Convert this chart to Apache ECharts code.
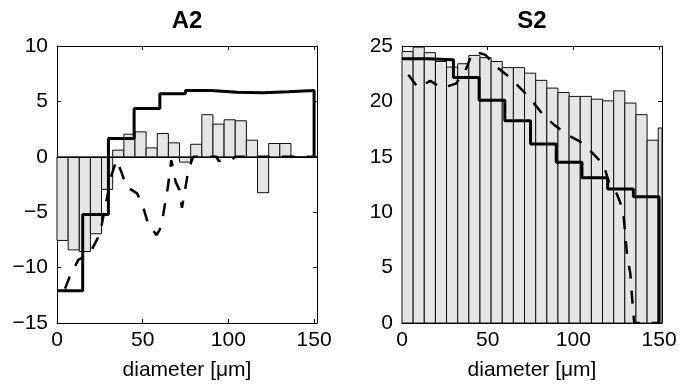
<!DOCTYPE html>
<html>
<head>
<meta charset="utf-8">
<script src="https://cdn.jsdelivr.net/npm/echarts@6/dist/echarts.min.js"></script>
<style>
  html, body { margin: 0; padding: 0; background: #fff; }
  #chart { width: 680px; height: 387px; }
</style>
</head>
<body>
<div id="chart"></div>
<script>
// Size-distribution panels: histogram bars, stepped fit and dashed estimate.
const FONT = 'Liberation Sans, Arial, Helvetica, sans-serif';

const xTicks = [0, 50, 100, 150];
const xMax = 151.7;
const binWidth = 6.5;
const stepEdges = [0, 15, 30, 45, 60, 75, 90, 105, 120, 135, 150];

// A2
const a2YTicks = [-15, -10, -5, 0, 5, 10];
const a2Bars = [-7.55, -8.4, -8.55, -6.95, -2.94, 0.6, 2.04, 2.25, 0.8, 2.1, 1.26, -0.48,
                1.13, 3.8, 2.95, 3.34, 3.25, 1.5, -3.24, 1.2, 1.2, 0, 0, 0];
const a2Step = [-12.1, -5.2, 1.65, 4.35, 5.7, 5.98, 5.83, 5.77, 5.86, 5.98, 0];
const a2DashX = [4.7, 7.6, 12.4, 19.2, 23.7, 26, 31.8, 34.7, 37.6, 40.5, 46.7, 50.2, 53.1, 58,
                 59.9, 61.8, 63.4, 64.7, 66.7, 69.2, 71.5, 72.9, 74.4, 76.3, 78.3, 79.5,
                 86, 93, 94.4, 101.7, 104.2, 150];
const a2DashY = [-11.9, -10.75, -9.3, -8.7, -7.36, -6.2, -1.66, -0.3, -1.37, -2.7, -3.3, -4.5, -6.0, -7.06,
                 -6.6, -5.4, -3.9, -2.7, -0.3, -2.26, -3.0, -4.6, -3.3, -1.5, -0.47, 0,
                 0, 0, -0.38, -0.25, 0, 0];

// S2
const s2YTicks = [0, 5, 10, 15, 20, 25];
const s2Bars = [24.5, 24.9, 24.4, 23.6, 23.1, 23.4, 24.15, 23.95, 23.6, 23.05, 23.05, 22.55,
                21.9, 21.2, 20.8, 20.45, 20.45, 20.2, 20.05, 20.95, 19.85, 18.8, 16.5, 17.6];
const s2Step = [23.85, 23.75, 22.15, 20.1, 18.25, 16.15, 14.5, 13.1, 12.1, 11.4, 0];
const s2DashX = [3.7, 9.3, 16.5, 23.3, 31.4, 36.9, 41, 43.5, 46.5, 48.7, 55.7, 62.6, 70, 75.8,
                 82.8, 88.7, 96.3, 103.7, 111, 117.6, 120.5, 125.3, 129, 131.4, 133.2, 134.6, 135.5, 150];
const s2DashY = [22.4, 21.25, 21.85, 21.2, 21.6, 22.75, 24.35, 24.45, 24.3, 24.2, 23.05, 22.2, 21.05, 20.05,
                 18.7, 17.9, 17.0, 16.4, 15.35, 14.3, 12.8, 11.66, 10.2, 6.0, 4.5, 1.6, 0, 0];

const panels = [
  { title: 'A2', bars: a2Bars, step: a2Step, dx: a2DashX, dy: a2DashY, yTicks: a2YTicks, left: 57, baseline: true },
  { title: 'S2', bars: s2Bars, step: s2Step, dx: s2DashX, dy: s2DashY, yTicks: s2YTicks, left: 402, baseline: false }
];

const GRID_W = 260, GRID_H = 277, GRID_TOP = 46;
const minus = v => String(v).replace('-', '\u2212');

const grids = [], xAxes = [], yAxes = [], series = [], graphics = [];

panels.forEach((p, k) => {
  grids.push({ left: p.left, top: GRID_TOP, width: GRID_W, height: GRID_H, containLabel: false });
  const line = { show: true, onZero: false, lineStyle: { color: '#000', width: 1 } };
  const tick = { show: true, inside: true, length: 4, customValues: xTicks, lineStyle: { color: '#000', width: 1 } };
  xAxes.push({
    type: 'value', gridIndex: k, position: 'bottom', min: 0, max: xMax,
    axisLine: line, axisTick: tick, splitLine: { show: false },
    axisLabel: { customValues: xTicks, fontSize: 21, color: '#000', fontFamily: FONT, margin: 7 },
    name: 'diameter [\u03bcm]', nameLocation: 'middle', nameGap: 37,
    nameTextStyle: { fontSize: 21, color: '#000', fontFamily: FONT }
  });
  xAxes.push({
    type: 'value', gridIndex: k, position: 'top', min: 0, max: xMax,
    axisLine: line, axisTick: tick, splitLine: { show: false }, axisLabel: { show: false }
  });
  const yMin = p.yTicks[0], yMax = p.yTicks[p.yTicks.length - 1];
  const yTick = { show: true, inside: true, length: 4, lineStyle: { color: '#000', width: 1 } };
  yAxes.push({
    type: 'value', gridIndex: k, position: 'left', min: yMin, max: yMax, interval: 5,
    axisLine: line, axisTick: yTick, splitLine: { show: false },
    axisLabel: { fontSize: 21, color: '#000', fontFamily: FONT, margin: 9, formatter: minus }
  });
  yAxes.push({
    type: 'value', gridIndex: k, position: 'right', min: yMin, max: yMax, interval: 5,
    axisLine: line, axisTick: yTick, splitLine: { show: false }, axisLabel: { show: false }
  });

  const xi = 2 * k, yi = 2 * k;

  // histogram bars, clipped to the plot box
  series.push({
    type: 'custom', xAxisIndex: xi, yAxisIndex: yi, z: 2,
    data: p.bars.map((v, i) => [i * binWidth, (i + 1) * binWidth, v]),
    encode: { x: [0, 1], y: 2 },
    renderItem(params, api) {
      const a = api.coord([api.value(0), 0]);
      const b = api.coord([api.value(1), api.value(2)]);
      const cs = params.coordSys;
      const r = echarts.graphic.clipRectByRect(
        { x: Math.min(a[0], b[0]), y: Math.min(a[1], b[1]), width: Math.abs(b[0] - a[0]), height: Math.abs(b[1] - a[1]) },
        { x: cs.x, y: cs.y, width: cs.width, height: cs.height });
      return r && { type: 'rect', shape: r, style: { fill: '#e5e5e5', stroke: '#111', lineWidth: 1 } };
    },
    markLine: p.baseline ? {
      silent: true, symbol: 'none', label: { show: false },
      lineStyle: { color: '#000', width: 1, type: 'solid' },
      data: [{ yAxis: 0 }]
    } : undefined
  });

  // dashed estimate
  series.push({
    type: 'line', xAxisIndex: xi, yAxisIndex: yi, z: 3,
    data: p.dx.map((x, i) => [x, p.dy[i]]),
    showSymbol: false, symbol: 'none', clip: true,
    lineStyle: { color: '#000', width: 2.5, type: [13, 12] }
  });

  // stepped fit
  series.push({
    type: 'line', xAxisIndex: xi, yAxisIndex: yi, z: 4, step: 'end',
    data: stepEdges.map((x, i) => [x, p.step[i]]),
    showSymbol: false, symbol: 'none', clip: true,
    lineStyle: { color: '#000', width: 3 }
  });

  graphics.push({
    type: 'text', x: p.left + GRID_W / 2, y: 21,
    style: { text: p.title, font: 'bold 24px ' + FONT, fill: '#000', align: 'center', verticalAlign: 'middle' }
  });
});

const chart = echarts.init(document.getElementById('chart'), null, { renderer: 'canvas' });
chart.setOption({
  animation: false,
  backgroundColor: '#fff',
  grid: grids,
  xAxis: xAxes,
  yAxis: yAxes,
  series: series,
  graphic: graphics
});
</script>
</body>
</html>
